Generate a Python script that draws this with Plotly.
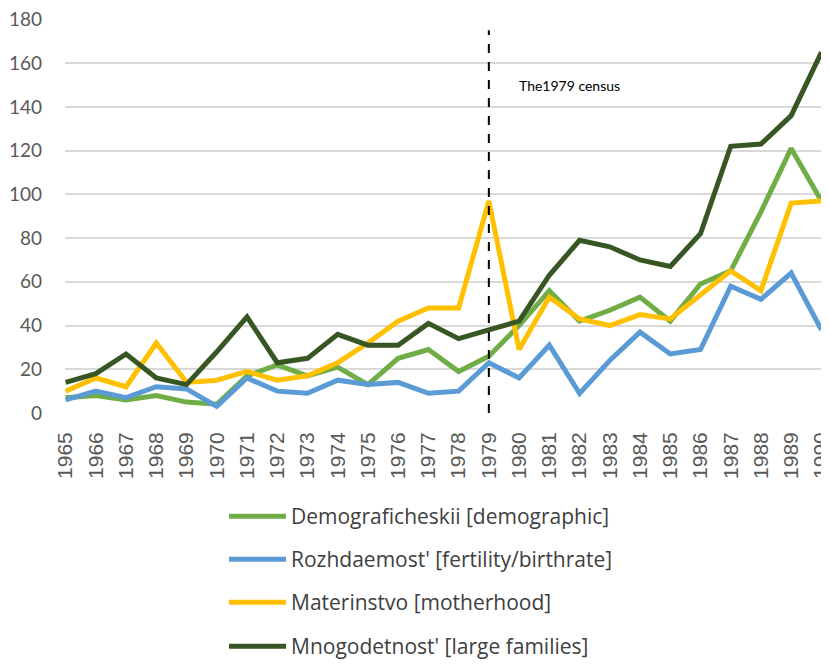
import plotly.graph_objects as go

years = list(range(1965, 1991))
year_labels = [str(y) for y in years]

demograficheskii = [7, 8, 6, 8, 5, 4, 17, 22, 17, 21, 13, 25, 29, 19, 26, 40, 56, 42, 47, 53, 42, 59, 65, 92, 121, 97]
rozhdaemost = [6, 10, 7, 12, 11, 3, 16, 10, 9, 15, 13, 14, 9, 10, 23, 16, 31, 9, 24, 37, 27, 29, 58, 52, 64, 38]
materinstvo = [10, 16, 12, 32, 14, 15, 19, 15, 17, 23, 32, 42, 48, 48, 97, 29, 53, 43, 40, 45, 43, 54, 65, 56, 96, 97]
mnogodetnost = [14, 18, 27, 16, 13, 28, 44, 23, 25, 36, 31, 31, 41, 34, 38, 42, 63, 79, 76, 70, 67, 82, 122, 123, 136, 165]

series_names = [
    "Demograficheskii [demographic]",
    "Rozhdaemost' [fertility/birthrate]",
    "Materinstvo [motherhood]",
    "Mnogodetnost' [large families]",
]
series_values = [demograficheskii, rozhdaemost, materinstvo, mnogodetnost]
colors = ["#70AD47", "#5B9BD5", "#FFC000", "#375623"]

census_year = 1979
census_label = "The1979 census"
y_ticks = [0, 20, 40, 60, 80, 100, 120, 140, 160, 180]

fig = go.Figure()
legend_ids = ["legend", "legend2", "legend3", "legend4"]
for name, vals, col, lg in zip(series_names, series_values, colors, legend_ids):
    fig.add_trace(go.Scatter(
        x=years, y=vals, mode="lines", name=name,
        line=dict(color=col, width=5), legend=lg,
    ))

# dashed census line
fig.add_trace(go.Scatter(
    x=[census_year, census_year], y=[0, 175], mode="lines",
    line=dict(color="black", width=2, dash="dash"), showlegend=False,
    hoverinfo="skip",
))

fig.add_annotation(
    x=census_year, y=150, xref="x", yref="y", text=census_label,
    showarrow=False, xanchor="left", xshift=28,
    font=dict(family="Lato", size=14, color="#000000"),
)

# page has an 8px body margin; size the figure to fit the 829x664 window
OFF = 8
W, H = 829 - OFF, 664 - OFF
plot_left, plot_right, plot_top, plot_bottom = 65, 822, 19, 413  # page pixels
ml = plot_left - OFF
mr = W + OFF - plot_right
mt = plot_top - OFF
mb = H + OFF - plot_bottom
pw = plot_right - plot_left
ph = plot_bottom - plot_top

def px_to_paper_x(px):
    return (px - plot_left) / pw

def px_to_paper_y(py):
    return (plot_bottom - py) / ph

legend_font = dict(family="Open Sans", size=21, color="#404040")
legend_tops = [496, 539, 582, 626]
layout_legends = {}
for lg, top in zip(legend_ids, legend_tops):
    layout_legends[lg] = dict(
        x=px_to_paper_x(224), y=px_to_paper_y(top), xanchor="left", yanchor="top",
        font=legend_font, bgcolor="rgba(0,0,0,0)", borderwidth=0, itemwidth=57,
    )

fig.update_layout(
    width=W, height=H,
    margin=dict(l=ml, r=mr, t=mt, b=mb, pad=0, autoexpand=False),
    paper_bgcolor="white", plot_bgcolor="white",
    showlegend=True,
    xaxis=dict(
        range=[1964.98, 1990.02], tickmode="array", tickvals=years, ticktext=year_labels,
        tickangle=-90, showgrid=False, zeroline=False, showline=False, ticks="",
        tickfont=dict(family="Liberation Sans", size=21, color="#595959"),
        ticklabelstandoff=14, automargin=False, ticklabeloverflow="allow",
        fixedrange=True,
    ),
    yaxis=dict(
        range=[0, 180.2], tickmode="array", tickvals=y_ticks,
        showgrid=True, gridcolor="#D9D9D9", gridwidth=1.5, zeroline=False,
        showline=False, ticks="", ticklabelstandoff=22, automargin=False,
        ticklabeloverflow="allow",
        tickfont=dict(family="Lato", size=19, color="#595959"),
        fixedrange=True,
    ),
    **layout_legends,
)

fig.write_html("out.html")
